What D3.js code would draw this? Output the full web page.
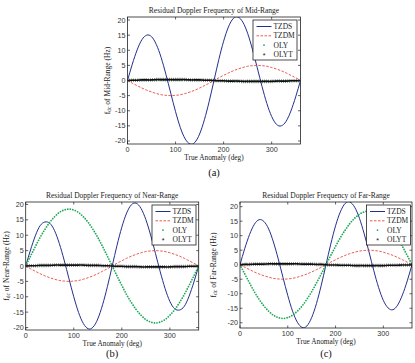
<!DOCTYPE html>
<html>
<head>
<meta charset="utf-8">
<script src="https://cdn.jsdelivr.net/npm/d3@7"></script>
<style>
  body { margin: 0; background: #fff; }
  svg { display: block; }
</style>
</head>
<body>
<script>
////////////////////////////////////////////////////////////////////////
// Data (true anomaly every 10 deg)

let anomaly = [0, 10, 20, 30, 40, 50, 60, 70, 80, 90, 100, 110, 120, 130, 140, 150, 160, 170, 180,
  190, 200, 210, 220, 230, 240, 250, 260, 270, 280, 290, 300, 310, 320, 330, 340, 350, 360];

let tzdsMid = [0, 5.4, 10.1, 13.5, 15.0, 14.5, 11.9, 7.6, 2.0, -4.2, -10.3, -15.6, -19.3, -21.0, -20.5, -17.7, -13.0, -6.9, 0,
  6.9, 13.0, 17.7, 20.5, 21.0, 19.3, 15.6, 10.3, 4.2, -2.0, -7.6, -11.9, -14.5, -15.0, -13.5, -10.1, -5.4, 0];
let tzdsNear = [0, 5.2, 9.8, 13.1, 14.3, 13.9, 11.5, 7.3, 1.9, -4.1, -10.0, -15.1, -18.7, -20.4, -19.9, -17.2, -12.6, -6.7, 0,
  6.7, 12.6, 17.2, 19.9, 20.4, 18.7, 15.1, 10.0, 4.1, -1.9, -7.3, -11.5, -13.9, -14.3, -13.1, -9.8, -5.2, 0];
let tzdsFar = [0, 5.6, 10.4, 13.9, 15.5, 14.9, 12.3, 7.8, 2.0, -4.4, -10.6, -16.0, -19.8, -21.6, -21.1, -18.2, -13.4, -7.1, 0,
  7.1, 13.4, 18.2, 21.1, 21.6, 19.8, 16.0, 10.6, 4.4, -2.0, -7.8, -12.3, -14.9, -15.5, -13.9, -10.4, -5.6, 0];

let tzdm = [0, -0.9, -1.7, -2.5, -3.2, -3.8, -4.3, -4.7, -4.9, -5.0, -4.9, -4.7, -4.3, -3.8, -3.2, -2.5, -1.7, -0.9, 0,
  0.9, 1.7, 2.5, 3.2, 3.8, 4.3, 4.7, 4.9, 5.0, 4.9, 4.7, 4.3, 3.8, 3.2, 2.5, 1.7, 0.9, 0];

let olyMid = [0, 0.1, 0.1, 0.2, 0.2, 0.2, 0.2, 0.2, 0.2, 0.2, 0.2, 0.2, 0.2, 0.2, 0.2, 0.1, 0.1, 0.1, 0,
  -0.1, -0.1, -0.1, -0.2, -0.2, -0.2, -0.2, -0.2, -0.2, -0.2, -0.2, -0.2, -0.2, -0.2, -0.2, -0.1, -0.1, 0];
let olyNear = [0, 3.2, 6.3, 9.3, 11.9, 14.2, 16.0, 17.4, 18.2, 18.5, 18.2, 17.4, 16.0, 14.2, 11.9, 9.3, 6.3, 3.2, 0,
  -3.2, -6.3, -9.3, -11.9, -14.2, -16.0, -17.4, -18.2, -18.5, -18.2, -17.4, -16.0, -14.2, -11.9, -9.3, -6.3, -3.2, 0];
let olyFar = [0, -3.2, -6.3, -9.3, -11.9, -14.2, -16.0, -17.4, -18.2, -18.5, -18.2, -17.4, -16.0, -14.2, -11.9, -9.3, -6.3, -3.2, 0,
  3.2, 6.3, 9.3, 11.9, 14.2, 16.0, 17.4, 18.2, 18.5, 18.2, 17.4, 16.0, 14.2, 11.9, 9.3, 6.3, 3.2, 0];

let olyt = [0, 0.1, 0.1, 0.2, 0.2, 0.2, 0.3, 0.3, 0.3, 0.3, 0.3, 0.3, 0.3, 0.2, 0.2, 0.2, 0.1, 0.1, 0,
  -0.1, -0.1, -0.2, -0.2, -0.2, -0.3, -0.3, -0.3, -0.3, -0.3, -0.3, -0.3, -0.2, -0.2, -0.2, -0.1, -0.1, 0];

let yTicks = [-20, -15, -10, -5, 0, 5, 10, 15, 20];
let xTicks = [0, 100, 200, 300];
let legendNames = ["TZDS", "TZDM", "OLY", "OLYT"];

////////////////////////////////////////////////////////////////////////
// Panel layout

let panels = [
  { range: "Mid-Range", caption: "(a)", left: 127.5, right: 300.5, top: 17, bottom: 144, yDomain: [-21, 21],
    tzds: tzdsMid, oly: olyMid, legend: [253, 20], yLabelX: 107, captionY: 175.5 },
  { range: "Near-Range", caption: "(b)", left: 25.7, right: 198.7, top: 202, bottom: 330, yDomain: [-20.8, 20.8],
    tzds: tzdsNear, oly: olyNear, legend: [152, 205], yLabelX: 6, captionY: 357 },
  { range: "Far-Range", caption: "(c)", left: 240, right: 412, top: 202, bottom: 328, yDomain: [-21.8, 21.6],
    tzds: tzdsFar, oly: olyFar, legend: [366.5, 205], yLabelX: 213, captionY: 357 }
];

let colors = { tzds: "#22308c", tzdm: "#e8473d", oly: "#1fa85a", olyt: "#111" };
let serif = "'Liberation Serif', 'Times New Roman', serif";
let sans = "'Liberation Sans', Arial, sans-serif";

let svg = d3.select("body").append("svg").attr("width", 415).attr("height", 363);

function drawPanel(p, i) {
  let x = d3.scaleLinear().domain([0, 360]).range([p.left, p.right]);
  let y = d3.scaleLinear().domain(p.yDomain).range([p.bottom, p.top]);
  let g = svg.append("g");
  let cx = (p.left + p.right) / 2;

  g.append("clipPath").attr("id", "clip" + i)
    .append("rect").attr("x", p.left).attr("y", p.top)
    .attr("width", p.right - p.left).attr("height", p.bottom - p.top);

  let line = d3.line()
    .x((d, j) => x(anomaly[j]))
    .y(d => y(d))
    .curve(d3.curveNatural);

  let plot = g.append("g").attr("clip-path", "url(#clip" + i + ")");
  plot.append("path").attr("d", line(p.tzds))
    .attr("fill", "none").attr("stroke", colors.tzds).attr("stroke-width", 1);
  plot.append("path").attr("d", line(tzdm))
    .attr("fill", "none").attr("stroke", colors.tzdm).attr("stroke-width", 0.9)
    .attr("stroke-dasharray", "2.5 1.5");
  plot.append("path").attr("d", line(p.oly))
    .attr("fill", "none").attr("stroke", colors.oly).attr("stroke-width", 1.8)
    .attr("stroke-linecap", "round").attr("stroke-dasharray", "0 2.6");
  plot.append("path").attr("d", line(olyt))
    .attr("fill", "none").attr("stroke", colors.olyt).attr("stroke-width", 1.6);
  plot.append("path").attr("d", line(olyt))
    .attr("fill", "none").attr("stroke", colors.olyt).attr("stroke-width", 3.6)
    .attr("stroke-dasharray", "0.6 1.3").attr("opacity", 0.8);

  // box and ticks (MATLAB style, inward on all four sides)
  g.append("rect").attr("x", p.left).attr("y", p.top)
    .attr("width", p.right - p.left).attr("height", p.bottom - p.top)
    .attr("fill", "none").attr("stroke", "#222").attr("stroke-width", 0.8);

  let tl = 2.5;
  xTicks.forEach(t => {
    g.append("line").attr("x1", x(t)).attr("x2", x(t)).attr("y1", p.bottom).attr("y2", p.bottom - tl)
      .attr("stroke", "#222").attr("stroke-width", 0.7);
    g.append("line").attr("x1", x(t)).attr("x2", x(t)).attr("y1", p.top).attr("y2", p.top + tl)
      .attr("stroke", "#222").attr("stroke-width", 0.7);
    g.append("text").attr("x", x(t)).attr("y", p.bottom + 7.8)
      .attr("text-anchor", "middle").attr("font-family", sans).attr("font-size", 7.2)
      .attr("fill", "#333").text(t);
  });
  yTicks.forEach(t => {
    g.append("line").attr("x1", p.left).attr("x2", p.left + tl).attr("y1", y(t)).attr("y2", y(t))
      .attr("stroke", "#222").attr("stroke-width", 0.7);
    g.append("line").attr("x1", p.right).attr("x2", p.right - tl).attr("y1", y(t)).attr("y2", y(t))
      .attr("stroke", "#222").attr("stroke-width", 0.7);
    g.append("text").attr("x", p.left - 2).attr("y", y(t)).attr("dy", "0.35em")
      .attr("text-anchor", "end").attr("font-family", sans).attr("font-size", 7.2)
      .attr("fill", "#333").text(t);
  });

  // titles and labels
  g.append("text").attr("x", cx).attr("y", p.top - 4.5)
    .attr("text-anchor", "middle").attr("font-family", serif).attr("font-size", 7.5)
    .attr("fill", "#222").text("Residual Doppler Frequency of " + p.range);
  g.append("text").attr("x", cx).attr("y", p.bottom + 16)
    .attr("text-anchor", "middle").attr("font-family", serif).attr("font-size", 7.3)
    .attr("fill", "#222").text("True Anomaly (deg)");
  g.append("text").attr("x", cx).attr("y", p.captionY)
    .attr("text-anchor", "middle").attr("font-family", serif).attr("font-size", 10.5)
    .attr("fill", "#111").text(p.caption);

  let yl = g.append("text")
    .attr("transform", "translate(" + (p.yLabelX + 2.5) + "," + ((p.top + p.bottom) / 2) + ") rotate(-90)")
    .attr("text-anchor", "middle").attr("font-family", serif).attr("font-size", 7.5).attr("fill", "#222");
  yl.append("tspan").text("f");
  yl.append("tspan").attr("font-size", 5.5).attr("dy", 1.8).text("dc");
  yl.append("tspan").attr("dy", -1.8).text(" of " + p.range + " (Hz)");

  // legend
  let lx = p.legend[0], ly = p.legend[1];
  let lg = g.append("g");
  lg.append("rect").attr("x", lx).attr("y", ly).attr("width", 44).attr("height", 40)
    .attr("fill", "#fff").attr("stroke", "#222").attr("stroke-width", 0.8);
  legendNames.forEach((name, k) => {
    let ry = ly + 6.5 + k * 9.3;
    if (k === 0 || k === 1) {
      lg.append("line").attr("x1", lx + 3.5).attr("x2", lx + 18.5).attr("y1", ry).attr("y2", ry)
        .attr("stroke", k === 0 ? colors.tzds : colors.tzdm).attr("stroke-width", k === 0 ? 1 : 0.9)
        .attr("stroke-dasharray", k === 1 ? "2.5 1.5" : null);
    } else if (k === 2) {
      lg.append("circle").attr("cx", lx + 11).attr("cy", ry).attr("r", 0.9).attr("fill", colors.oly);
    } else {
      lg.append("text").attr("x", lx + 11).attr("y", ry).attr("dy", "0.55em")
        .attr("text-anchor", "middle").attr("font-family", sans).attr("font-size", 7)
        .attr("fill", colors.olyt).text("*");
    }
    lg.append("text").attr("x", lx + 20.5).attr("y", ry).attr("dy", "0.35em")
      .attr("font-family", serif).attr("font-size", 7.5).attr("fill", "#222").text(name);
  });
}

panels.forEach(drawPanel);
</script>
</body>
</html>
